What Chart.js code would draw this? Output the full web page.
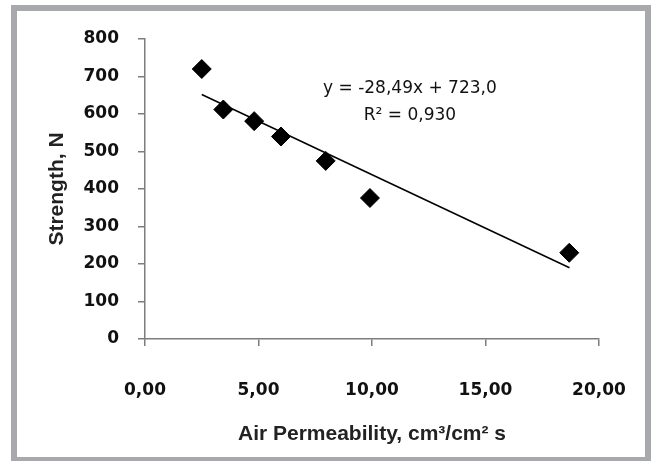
<!DOCTYPE html>
<html>
<head>
<meta charset="utf-8">
<script src="https://cdn.jsdelivr.net/npm/chart.js@4"></script>
<style>
  html, body { margin: 0; padding: 0; background: #fff; }
  #frame {
    position: absolute; left: 11px; top: 5px;
    width: 640px; height: 456px;
    box-sizing: border-box;
    border: 6px solid #a8a9ac; border-bottom-width: 4px;
  }
  #wrap { position: absolute; left: 0; top: 0; width: 628px; height: 446px; }
</style>
</head>
<body>
<div id="frame"><div id="wrap"><canvas id="chart"></canvas></div></div>
<script>
  // measured points: air permeability vs strength
  const permeability = [2.5, 3.45, 4.81, 5.99, 7.96, 9.91, 18.69];
  const strength = [720, 612, 581, 540, 475, 376, 230];

  // linear trend line ends
  const trendX = [2.5, 18.7];
  const trendY = [652, 190];

  const equationLines = ["y = -28,49x + 723,0", "R² = 0,930"];

  const tickFont = { family: "DejaVu Sans", size: 17, weight: "bold" };
  const axisGrey = "#7d7d7d";

  const equationLabel = {
    id: "equationLabel",
    afterDatasetsDraw(chart) {
      const ctx = chart.ctx;
      const x = chart.scales.x.getPixelForValue(11.67);
      ctx.save();
      ctx.font = "17px 'DejaVu Sans'";
      ctx.fillStyle = "#111";
      ctx.textAlign = "center";
      ctx.textBaseline = "middle";
      ctx.fillText(equationLines[0], x, chart.scales.y.getPixelForValue(667));
      ctx.fillText(equationLines[1], x, chart.scales.y.getPixelForValue(597));
      ctx.restore();
    }
  };

  const ctx = document.getElementById("chart");

  new Chart(ctx, {
    type: "scatter",
    data: {
      datasets: [{
        label: "Strength",
        data: permeability.map((v, i) => ({ x: v, y: strength[i] })),
        pointStyle: "rectRot",
        pointRadius: 9.5,
        pointHoverRadius: 9.5,
        backgroundColor: "#000",
        borderColor: "#000",
        borderWidth: 1,
        order: 0
      }, {
        label: "Trend",
        data: trendX.map((v, i) => ({ x: v, y: trendY[i] })),
        showLine: true,
        pointRadius: 0,
        borderColor: "#000",
        borderWidth: 1.5,
        order: 1
      }]
    },
    options: {
      responsive: true,
      maintainAspectRatio: false,
      animation: false,
      layout: { padding: { top: 28, right: 46, left: 0, bottom: 0 } },
      plugins: { legend: { display: false }, tooltip: { enabled: false } },
      scales: {
        x: {
          type: "linear",
          min: 0,
          max: 20,
          afterFit: function(scale) {
            scale.height = 118;
            // labels may overhang, layout padding keeps the plot width fixed
            scale.paddingLeft = 0;
            scale.paddingRight = 0;
          },
          border: { display: true, color: axisGrey, width: 1.5 },
          grid: { drawOnChartArea: false, color: axisGrey, tickLength: 7, lineWidth: 1.5 },
          ticks: {
            stepSize: 5,
            padding: 34,
            color: "#111",
            font: tickFont,
            callback: function(value) {
              return value.toFixed(2).replace(".", ",");
            }
          },
          title: {
            display: true,
            text: "Air Permeability, cm³/cm² s",
            color: "#222",
            font: { family: "Liberation Sans", size: 21, weight: "bold" },
            padding: { top: 0, bottom: 10 }
          }
        },
        y: {
          min: 0,
          max: 800,
          afterFit: function(scale) {
            scale.width = 128;
            scale.paddingTop = 0;
            scale.paddingBottom = 0;
          },
          border: { display: true, color: axisGrey, width: 1.5 },
          grid: { drawOnChartArea: false, color: axisGrey, tickLength: 7, lineWidth: 1.5 },
          ticks: {
            stepSize: 100,
            padding: 19,
            color: "#111",
            font: tickFont
          },
          title: {
            display: true,
            text: "Strength, N",
            color: "#222",
            font: { family: "Liberation Sans", size: 21, weight: "bold" },
            padding: { top: 28, bottom: 0 }
          }
        }
      }
    },
    plugins: [equationLabel]
  });
</script>
</body>
</html>
